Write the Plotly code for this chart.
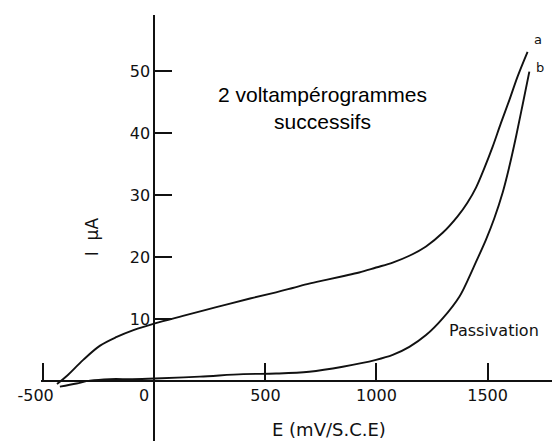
import plotly.graph_objects as go

# Cyclic voltammetry: two successive sweeps (current in µA vs potential in mV/S.C.E)
E_a = [-438, -394, -320, -244, -169, -94, 3, 129, 279, 431, 548, 623, 697, 773,
       848, 922, 998, 1073, 1148, 1223, 1298, 1366, 1410, 1448, 1485, 1523,
       1560, 1598, 1635, 1680]
I_a = [-0.5, 0.8, 3.4, 5.7, 7.1, 8.2, 9.3, 10.5, 11.9, 13.3, 14.3, 15.0, 15.7,
       16.3, 16.9, 17.5, 18.3, 19.1, 20.2, 21.7, 23.9, 26.6, 28.8, 31.2, 34.3,
       37.8, 41.6, 45.3, 49.1, 53.1]

E_b = [-425, -350, -290, -200, -100, 3, 205, 400, 548, 697, 848, 998, 1073,
       1148, 1223, 1298, 1373, 1410, 1448, 1493, 1530, 1568, 1598, 1628, 1658,
       1688]
I_b = [-0.9, -0.4, 0.05, 0.3, 0.3, 0.4, 0.7, 1.1, 1.2, 1.5, 2.3, 3.4, 4.2,
       5.5, 7.4, 10.1, 13.6, 16.2, 19.2, 22.8, 26.2, 30.4, 34.6, 39.4, 44.6,
       49.9]

x_ticks = [-500, 0, 500, 1000, 1500]
x_tick_labels = ["-500\u00a0\u00a0\u00a0", "0\u00a0\u00a0\u00a0\u00a0", "500", "1000", "1500"]
y_ticks = [10, 20, 30, 40, 50]
y_tick_labels = ["10", "20", "30", "40", "50"]

x_range = [-510, 1790]
y_range = [-9.68, 59.03]

scan_font = "DejaVu Sans"
ink = "#111111"

fig = go.Figure()
for E, I in ((E_a, I_a), (E_b, I_b)):
    fig.add_trace(go.Scatter(
        x=E, y=I, mode="lines",
        line=dict(color=ink, width=1.9, shape="spline", smoothing=1.0),
        showlegend=False, hoverinfo="skip",
    ))

# place each axis line where the other axis crosses zero
x_pos = (0 - y_range[0]) / (y_range[1] - y_range[0])
y_pos = (0 - x_range[0]) / (x_range[1] - x_range[0])

fig.update_layout(
    width=552, height=441,
    margin=dict(l=41, r=0, t=15, b=0),
    paper_bgcolor="white", plot_bgcolor="white",
    xaxis=dict(
        range=x_range, anchor="free", position=x_pos,
        showline=True, linecolor=ink, linewidth=1.5,
        showgrid=False, zeroline=False,
        ticks="inside", ticklen=17, tickwidth=1.5, tickcolor=ink,
        tickvals=x_ticks, ticktext=x_tick_labels,
        tickfont=dict(family=scan_font, size=16, color=ink),
    ),
    yaxis=dict(
        range=y_range, anchor="free", position=y_pos,
        showline=True, linecolor=ink, linewidth=2,
        showgrid=False, zeroline=False,
        ticks="inside", ticklen=17, tickwidth=1.5, tickcolor=ink,
        tickvals=y_ticks, ticktext=y_tick_labels,
        tickfont=dict(family=scan_font, size=16, color=ink),
    ),
    annotations=[
        dict(text="2 voltampérogrammes<br>successifs", x=755, y=44,
             xref="x", yref="y", showarrow=False,
             font=dict(family="Liberation Sans", size=21, color="#000"),
             align="center"),
        dict(text="Passivation", x=1529, y=8.1, xref="x", yref="y",
             showarrow=False, font=dict(family=scan_font, size=16, color=ink)),
        dict(text="a", x=1727, y=55, xref="x", yref="y", showarrow=False,
             font=dict(family=scan_font, size=13, color=ink)),
        dict(text="b", x=1736, y=50.5, xref="x", yref="y", showarrow=False,
             font=dict(family=scan_font, size=13, color=ink)),
        dict(text="E (mV/S.C.E)", x=785, y=-7.9, xref="x", yref="y",
             showarrow=False, font=dict(family=scan_font, size=18, color=ink)),
        dict(text="I \u00a0µA", x=-280, y=23.2, xref="x", yref="y",
             textangle=-90, showarrow=False,
             font=dict(family=scan_font, size=17, color=ink)),
    ],
)

fig.write_html("out.html")
